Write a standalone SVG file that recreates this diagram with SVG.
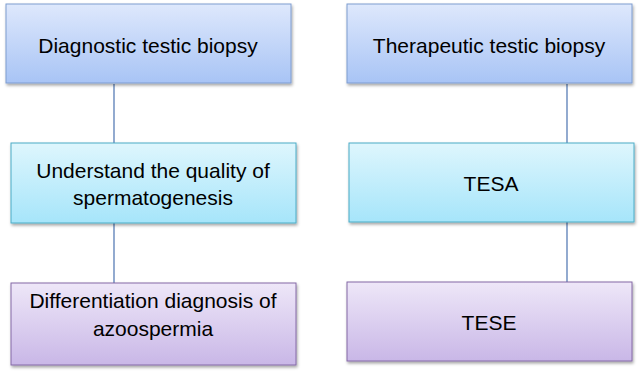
<svg xmlns="http://www.w3.org/2000/svg" width="640" height="372" viewBox="0 0 640 372">
<defs>
<linearGradient id="gBlue" x1="0" y1="0" x2="0" y2="1"><stop offset="0" stop-color="#dee8fc"/><stop offset="1" stop-color="#a8c4f5"/></linearGradient>
<linearGradient id="gCyan" x1="0" y1="0" x2="0" y2="1"><stop offset="0" stop-color="#def6fd"/><stop offset="1" stop-color="#a6e5fa"/></linearGradient>
<linearGradient id="gPurple" x1="0" y1="0" x2="0" y2="1"><stop offset="0" stop-color="#eee7f8"/><stop offset="1" stop-color="#c9b7e7"/></linearGradient>
<filter id="sh" x="-5%" y="-5%" width="115%" height="120%"><feDropShadow dx="1" dy="2" stdDeviation="1.5" flood-color="#000" flood-opacity="0.35"/></filter>
<style>
.t{font-family:"Liberation Sans",Arial,sans-serif;font-size:21px;fill:#000;text-anchor:middle}
.blue{fill:url(#gBlue);stroke:#7f9dd0;stroke-width:1}
.cyan{fill:url(#gCyan);stroke:#4bacc6;stroke-width:1}
.purple{fill:url(#gPurple);stroke:#8468a6;stroke-width:1}
.c{stroke:#4a72b0;stroke-width:1.2;fill:none}
</style>
</defs>
<rect width="640" height="372" fill="#fff"/>
<g id="connectors">
<line class="c" x1="114" y1="84" x2="114" y2="143"/>
<line class="c" x1="114" y1="223" x2="114" y2="283"/>
<line class="c" x1="567" y1="84" x2="567" y2="143"/>
<line class="c" x1="567" y1="222" x2="567" y2="282"/>
</g>
<g id="n1"><rect class="blue" filter="url(#sh)" x="6" y="4" width="285" height="79"/><text class="t" x="148" y="53">Diagnostic testic biopsy</text></g>
<g id="n2"><rect class="blue" filter="url(#sh)" x="347" y="4" width="285" height="79"/><text class="t" x="489" y="53">Therapeutic testic biopsy</text></g>
<g id="n3"><rect class="cyan" filter="url(#sh)" x="11" y="143" width="285" height="80"/><text class="t" x="153" y="178">Understand the quality of</text><text class="t" x="153" y="205">spermatogenesis</text></g>
<g id="n4"><rect class="cyan" filter="url(#sh)" x="349" y="143" width="285" height="79"/><text class="t" x="491" y="191">TESA</text></g>
<g id="n5"><rect class="purple" filter="url(#sh)" x="11" y="283" width="285" height="82"/><text class="t" x="153" y="308">Differentiation diagnosis of</text><text class="t" x="153" y="336">azoospermia</text></g>
<g id="n6"><rect class="purple" filter="url(#sh)" x="347" y="282" width="285" height="79"/><text class="t" x="489" y="330">TESE</text></g>
</svg>
